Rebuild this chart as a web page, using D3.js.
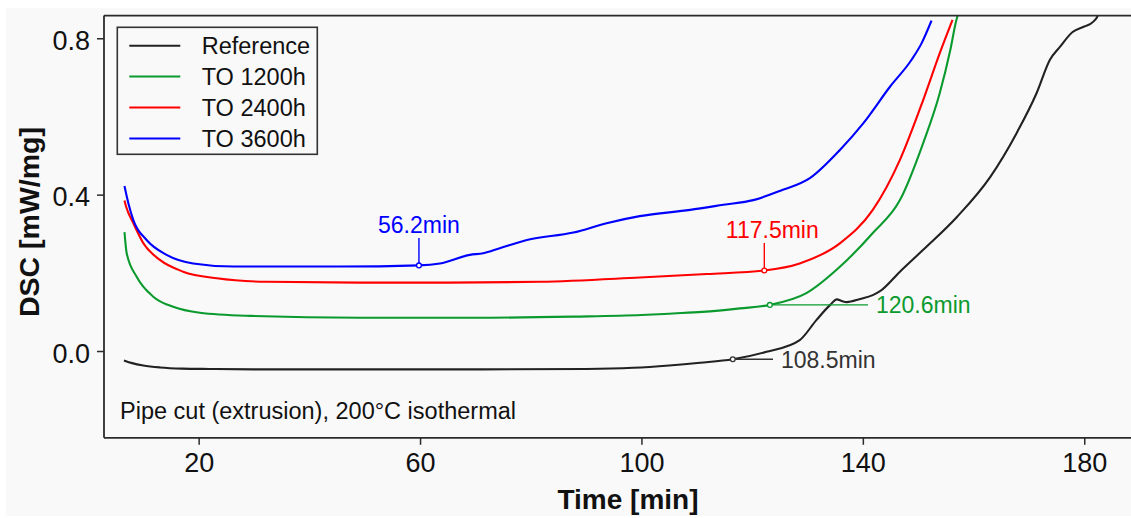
<!DOCTYPE html>
<html>
<head>
<meta charset="utf-8">
<script src="https://cdn.jsdelivr.net/npm/d3@7"></script>
<style>
  html, body { margin: 0; padding: 0; background: #ffffff; }
  svg { display: block; }
  text { font-family: "Liberation Sans", Arial, Helvetica, sans-serif; }
</style>
</head>
<body>
<svg id="chart" width="1131" height="518"></svg>
<script>
// Isothermal DSC traces (200 °C), pipe cut from extrusion
const refTime = [6.5, 8, 10, 13, 17, 22, 30, 50, 70, 90, 98.5, 105, 110.6, 116.5, 122.6, 128.6, 131.6, 134.1, 135.3, 136.2, 137.1, 139.5, 141.8, 143.1, 146.7, 150.9, 157.0, 163.0, 167.8, 171.4, 173.8, 175.6, 177.9, 180.0, 181.6, 182.5, 183.2];
const refDsc  = [-0.024, -0.031, -0.037, -0.042, -0.045, -0.046, -0.047, -0.047, -0.047, -0.046, -0.043, -0.037, -0.030, -0.021, -0.002, 0.028, 0.079, 0.118, 0.132, 0.128, 0.125, 0.133, 0.143, 0.153, 0.203, 0.259, 0.343, 0.445, 0.558, 0.660, 0.745, 0.778, 0.816, 0.830, 0.842, 0.860, 0.900];

const to1200Time = [6.6, 7.0, 8.8, 11.8, 15.4, 20.2, 29.3, 49.1, 70, 87.7, 100, 105.7, 111, 117.8, 123.2, 129.8, 135.9, 141.8, 146.7, 150.9, 153.9, 155.8, 156.9, 157.7];
const to1200Dsc  = [0.304, 0.250, 0.190, 0.139, 0.113, 0.098, 0.090, 0.085, 0.085, 0.088, 0.092, 0.096, 0.100, 0.109, 0.118, 0.148, 0.216, 0.302, 0.386, 0.532, 0.660, 0.770, 0.847, 0.880];

const to2400Time = [6.6, 6.9, 8.2, 10.0, 13.0, 17.2, 23.3, 32.3, 49.1, 65, 81.7, 99.7, 111.8, 122.2, 128.6, 135.9, 141.8, 146.7, 150.9, 153.9, 156.2];
const to2400Dsc  = [0.385, 0.369, 0.327, 0.276, 0.233, 0.203, 0.186, 0.177, 0.175, 0.175, 0.177, 0.188, 0.197, 0.206, 0.224, 0.276, 0.361, 0.489, 0.642, 0.762, 0.847];

const to3600Time = [6.6, 7.3, 8.2, 10.6, 14.2, 19.0, 26.3, 45.5, 59.8, 63.6, 69.0, 71.4, 74.4, 79.3, 87.7, 93.7, 99.7, 108.8, 114.8, 120.2, 125.1, 130.5, 135.9, 140.1, 144.9, 148.8, 150.6, 152.4];
const to3600Dsc  = [0.422, 0.378, 0.335, 0.284, 0.246, 0.224, 0.216, 0.216, 0.219, 0.224, 0.246, 0.250, 0.263, 0.284, 0.303, 0.327, 0.345, 0.361, 0.374, 0.386, 0.410, 0.443, 0.515, 0.583, 0.676, 0.745, 0.787, 0.845];

const seriesNames  = ["Reference", "TO 1200h", "TO 2400h", "TO 3600h"];
const seriesColors = ["#222222", "#0b9a2e", "#ff0000", "#0000ff"];

// Onset labels and the curve point each one marks
const onsetLabels     = ["108.5min", "120.6min", "117.5min", "56.2min"];
const onsetMarkerTime = [116.5, 123.2, 122.2, 59.8];

const xTicks = [20, 60, 100, 140, 180];
const yTicks = [0.0, 0.4, 0.8];

const series = [
  { time: refTime,    dsc: refDsc },
  { time: to1200Time, dsc: to1200Dsc },
  { time: to2400Time, dsc: to2400Dsc },
  { time: to3600Time, dsc: to3600Dsc }
].map((s, i) => ({
  name: seriesNames[i],
  color: seriesColors[i],
  points: s.time.map((t, j) => ({ t, v: s.dsc[j] }))
}));

const W = 1131, H = 518;
const svg = d3.select("#chart");

// figure background
svg.append("rect").attr("x", 0).attr("y", 0).attr("width", W).attr("height", H).attr("fill", "#ffffff");
svg.append("rect").attr("x", 6).attr("y", 8).attr("width", W - 6).attr("height", 508).attr("fill", "#f9f9f9");

const plot = { left: 104, top: 15.6, bottom: 437.8 };
const x = d3.scaleLinear().domain([2.9, 195]).range([plot.left, plot.left + (195 - 2.9) * 5.535]);
const y = d3.scaleLinear().domain([-0.222, 0.858]).range([plot.bottom, plot.top]);

svg.append("clipPath").attr("id", "plotClip")
  .append("rect").attr("x", plot.left).attr("y", plot.top)
  .attr("width", W - plot.left).attr("height", plot.bottom - plot.top);

const axisColor = "#2b2b2b";

// curves
const line = d3.line().x(d => x(d.t)).y(d => y(d.v)).curve(d3.curveMonotoneX);
const curves = svg.append("g").attr("clip-path", "url(#plotClip)");
series.forEach(s => {
  curves.append("path").datum(s.points)
    .attr("fill", "none").attr("stroke", s.color)
    .attr("stroke-width", 2.1).attr("stroke-linejoin", "round")
    .attr("d", line);
});

// frame: top and left border
svg.append("line").attr("x1", plot.left).attr("x2", W).attr("y1", plot.top).attr("y2", plot.top)
  .attr("stroke", axisColor).attr("stroke-width", 1.8);

// x axis
const xAxis = svg.append("g").attr("transform", `translate(0,${plot.bottom})`)
  .call(d3.axisBottom(x).tickValues(xTicks).tickSize(7).tickPadding(8).tickFormat(d3.format("d")));
xAxis.select(".domain").attr("stroke", axisColor).attr("stroke-width", 1.8)
  .attr("d", `M${plot.left},0H${W}`);
xAxis.selectAll(".tick line").attr("stroke", axisColor).attr("stroke-width", 1.5);
xAxis.selectAll(".tick text").attr("fill", "#111").attr("font-size", 27)
  .attr("font-family", "'Liberation Sans', Arial, sans-serif");

// y axis
const yAxis = svg.append("g").attr("transform", `translate(${plot.left},0)`)
  .call(d3.axisLeft(y).tickValues(yTicks).tickSize(7).tickPadding(7).tickFormat(d3.format(".1f")));
yAxis.select(".domain").attr("stroke", axisColor).attr("stroke-width", 1.8)
  .attr("d", `M0,${plot.top}V${plot.bottom}`);
yAxis.selectAll(".tick line").attr("stroke", axisColor).attr("stroke-width", 1.5);
yAxis.selectAll(".tick text").attr("fill", "#111").attr("font-size", 27).attr("dy", "0.42em")
  .attr("font-family", "'Liberation Sans', Arial, sans-serif");

// axis titles
svg.append("text").attr("x", 628).attr("y", 509).attr("text-anchor", "middle")
  .attr("font-size", 28).attr("font-weight", "bold").attr("fill", "#111").text("Time [min]");
svg.append("text").attr("transform", "translate(39,222) rotate(-90)").attr("text-anchor", "middle")
  .attr("font-size", 28.5).attr("font-weight", "bold").attr("fill", "#111").text("DSC [mW/mg]");

// condition note
svg.append("text").attr("x", 120).attr("y", 419).attr("font-size", 23.5).attr("fill", "#111")
  .text("Pipe cut (extrusion), 200°C isothermal");

// onset annotations
const ann = svg.append("g");
const labelColors = ["#333333", "#0b9a2e", "#ff0000", "#0000ff"];
series.forEach((s, i) => {
  const p = s.points.find(d => d.t === onsetMarkerTime[i]);
  const px = x(p.t), py = y(p.v);
  const col = labelColors[i];
  if (i === 0 || i === 1) {
    // horizontal leader to the right
    const endX = i === 0 ? 773 : 868;
    ann.append("line").attr("x1", px).attr("x2", endX).attr("y1", py).attr("y2", py)
      .attr("stroke", col).attr("stroke-width", 1.4);
    ann.append("text").attr("x", endX + 8).attr("y", py).attr("dy", "0.36em")
      .attr("font-size", 23).attr("fill", col).text(onsetLabels[i]);
  } else {
    // vertical leader upward
    const topY = i === 2 ? 243 : 238;
    ann.append("line").attr("x1", px).attr("x2", px).attr("y1", py).attr("y2", topY)
      .attr("stroke", col).attr("stroke-width", 1.4);
    ann.append("text").attr("x", i === 2 ? px + 8 : px).attr("y", topY - 5)
      .attr("text-anchor", "middle").attr("font-size", 23).attr("fill", col).text(onsetLabels[i]);
  }
  ann.append("circle").attr("cx", px).attr("cy", py).attr("r", 2.4)
    .attr("fill", "#ffffff").attr("stroke", col).attr("stroke-width", 1.3);
});

// legend
const lg = svg.append("g");
lg.append("rect").attr("x", 117.3).attr("y", 27.3).attr("width", 200).attr("height", 127)
  .attr("fill", "#f9f9f9").attr("stroke", "#333").attr("stroke-width", 1.6);
series.forEach((s, i) => {
  const ry = 45.7 + i * 30.9;
  lg.append("line").attr("x1", 129.3).attr("x2", 180.3).attr("y1", ry).attr("y2", ry)
    .attr("stroke", s.color).attr("stroke-width", 2);
  lg.append("text").attr("x", 201.7).attr("y", ry).attr("dy", "0.36em")
    .attr("font-size", 23.5).attr("fill", "#111").text(s.name);
});
</script>
</body>
</html>
